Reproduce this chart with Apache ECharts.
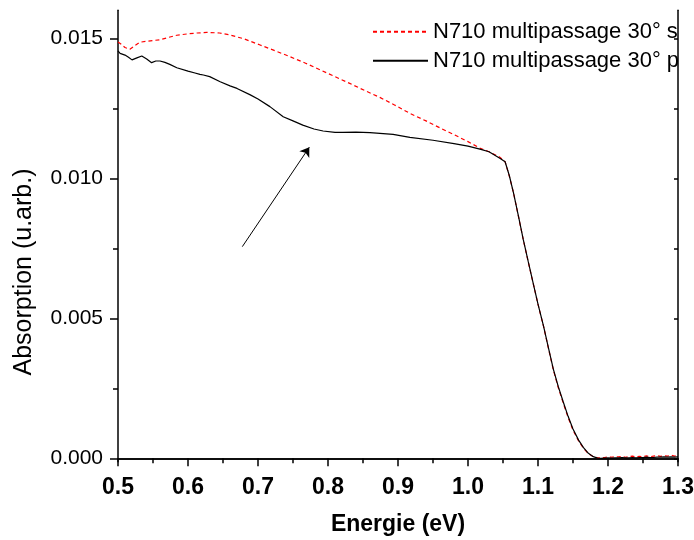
<!DOCTYPE html>
<html>
<head>
<meta charset="utf-8">
<script src="https://cdn.jsdelivr.net/npm/echarts@6/dist/echarts.min.js"></script>
<style>html,body{margin:0;padding:0;background:#fff}#c{width:694px;height:540px}</style>
</head>
<body>
<div id="c"></div>
<script>
// ---- data ----
const seriesNames = ['N710 multipassage 30° s', 'N710 multipassage 30° p'];

const energieS = [0.500,0.505,0.510,0.517,0.524,0.531,0.540,0.550,0.560,0.572,0.584,0.600,0.613,0.627,0.645,0.660,0.680,0.703,0.725,0.746,0.768,0.789,0.810,0.831,0.852,0.874,0.895,0.917,0.940,0.960,0.980,1.000,1.017,1.030,1.045,1.053,
  1.059,1.065,1.072,1.079,1.086,1.093,1.100,1.108,1.115,1.122,1.129,1.136,1.143,1.150,1.158,1.165,1.172,1.179,1.185,1.190,
  1.195,1.200,1.205,1.210,1.215,1.220,1.225,1.230,1.235,1.240,1.245,1.250,1.255,1.260,1.265,1.270,1.275,1.280,1.285,1.290,1.295,1.300];
const absorptionS = [0.01487,0.01478,0.01467,0.01461,0.01474,0.01486,0.01489,0.01492,0.01495,0.01503,0.01511,0.01516,0.01519,0.01521,0.01519,0.01512,0.01498,0.01476,0.01455,0.01434,0.01411,0.01387,0.01363,0.01339,0.01314,0.01289,0.01262,0.01232,0.01205,0.01180,0.01156,0.01131,0.01108,0.01095,0.01076,0.01059,
  0.01008,0.00948,0.00865,0.00780,0.00702,0.00626,0.00550,0.00470,0.00392,0.00315,0.00252,0.00198,0.00146,0.00101,0.00062,0.00036,0.00017,0.00006,0.00002,0.00002,
  0.00003,0.00005,0.00004,0.00006,0.00005,0.00007,0.00004,0.00006,0.00008,0.00005,0.00007,0.00006,0.00009,0.00006,0.00008,0.00010,0.00007,0.00009,0.00008,0.00011,0.00008,0.00010];

const energieP = [0.500,0.503,0.510,0.515,0.520,0.527,0.534,0.541,0.548,0.554,0.560,0.567,0.574,0.584,0.600,0.610,0.617,0.622,0.631,0.646,0.660,0.670,0.689,0.700,0.717,0.736,0.750,0.764,0.780,0.793,0.810,0.821,0.840,0.860,0.893,0.917,0.950,0.980,1.000,1.017,1.030,1.046,1.053,
  1.059,1.065,1.072,1.079,1.086,1.093,1.100,1.108,1.115,1.122,1.129,1.136,1.143,1.150,1.158,1.165,1.172,1.179,1.185,1.190,
  1.195,1.200,1.205,1.210,1.215,1.220,1.225,1.230,1.235,1.240,1.245,1.250,1.255,1.260,1.265,1.270,1.275,1.280,1.285,1.290,1.295,1.300];
const absorptionP = [0.01455,0.01446,0.01440,0.01432,0.01423,0.01430,0.01437,0.01426,0.01413,0.01419,0.01419,0.01414,0.01407,0.01395,0.01383,0.01376,0.01371,0.01369,0.01363,0.01345,0.01330,0.01321,0.01298,0.01283,0.01256,0.01220,0.01205,0.01190,0.01176,0.01169,0.01164,0.01164,0.01165,0.01163,0.01157,0.01146,0.01136,0.01124,0.01115,0.01104,0.01095,0.01071,0.01059,
  0.01010,0.00948,0.00866,0.00781,0.00703,0.00627,0.00551,0.00471,0.00394,0.00318,0.00256,0.00202,0.00150,0.00105,0.00065,0.00038,0.00018,0.00006,0.00001,0.00000,
  0.00001,0.00002,0.00001,0.00002,0.00002,0.00003,0.00002,0.00002,0.00003,0.00002,0.00003,0.00003,0.00004,0.00003,0.00003,0.00004,0.00004,0.00005,0.00004,0.00005,0.00004,0.00005];

const yMajorTicks = [0, 0.005, 0.010, 0.015];
const yMinorTicks = [0.0025, 0.0075, 0.0125];
const yAllTicks = [0, 0.0025, 0.005, 0.0075, 0.010, 0.0125, 0.015];
const arrowStart = [0.6776, 0.00756];
const arrowEnd = [0.7733, 0.01111];

// ---- chart ----
const FONT = '"Liberation Sans", Arial, sans-serif';
const zip = (xs, ys) => xs.map((x, i) => [x, ys[i]]);
const axisLineStyle = { color: '#000', width: 1.5 };
const Y_MIN = -0.00012, Y_MAX = 0.016;

const chart = echarts.init(document.getElementById('c'), null, { renderer: 'canvas' });
chart.setOption({
  animation: false,
  backgroundColor: '#fff',
  grid: { left: 118, right: 16, top: 10.3, bottom: 78.3, containLabel: false, outerBoundsMode: 'none' },
  legend: {
    data: seriesNames,
    orient: 'vertical',
    left: 372, top: 19.7, padding: 0,
    itemGap: 5, itemWidth: 55, itemHeight: 14,
    selectedMode: false,
    itemStyle: { opacity: 0 },
    textStyle: { fontSize: 22, color: '#000', fontFamily: FONT, lineHeight: 24 }
  },
  xAxis: [
    {
      type: 'value', position: 'bottom', min: 0.5, max: 1.3, interval: 0.1,
      axisLine: { show: true, lineStyle: axisLineStyle },
      axisTick: { show: true, length: 8, lineStyle: axisLineStyle },
      minorTick: { show: true, splitNumber: 2, length: 5, lineStyle: axisLineStyle },
      axisLabel: { fontSize: 23, fontWeight: 'bold', color: '#000', fontFamily: FONT, margin: 14,
        showMinLabel: true, showMaxLabel: true, formatter: v => v.toFixed(1) },
      splitLine: { show: false },
      name: 'Energie (eV)', nameLocation: 'middle', nameGap: 51, nameMoveOverlap: false,
      nameTextStyle: { fontSize: 23, fontWeight: 'bold', color: '#000', fontFamily: FONT }
    },
    {
      type: 'value', position: 'top', min: 0.5, max: 1.3, interval: 0.05,
      axisLine: { show: true, lineStyle: axisLineStyle },
      axisTick: { show: true, inside: true, length: 4, lineStyle: axisLineStyle },
      axisLabel: { show: false },
      splitLine: { show: false }
    }
  ],
  yAxis: [
    {
      type: 'value', position: 'left', min: Y_MIN, max: Y_MAX,
      axisLine: { show: true, lineStyle: axisLineStyle },
      axisTick: { show: true, length: 8, customValues: yMajorTicks, lineStyle: axisLineStyle },
      axisLabel: { show: true, customValues: yMajorTicks, fontSize: 21, color: '#000', fontFamily: FONT, margin: 15,
        formatter: v => v.toFixed(3) },
      splitLine: { show: false }
    },
    {
      type: 'value', position: 'left', min: Y_MIN, max: Y_MAX,
      axisLine: { show: false },
      axisTick: { show: true, length: 5, customValues: yMinorTicks, lineStyle: axisLineStyle },
      axisLabel: { show: false },
      splitLine: { show: false }
    },
    {
      type: 'value', position: 'right', min: Y_MIN, max: Y_MAX,
      axisLine: { show: true, lineStyle: axisLineStyle },
      axisTick: { show: true, inside: true, length: 4, customValues: yAllTicks, lineStyle: axisLineStyle },
      axisLabel: { show: false },
      splitLine: { show: false }
    }
  ],
  graphic: [
    {
      type: 'text', x: 24, y: 272, rotation: Math.PI / 2, z: 10,
      style: { text: 'Absorption (u.arb.)', fontSize: 25, fontFamily: FONT, fill: '#000',
        textAlign: 'center', textVerticalAlign: 'middle' }
    },
    {
      type: 'rect', z: 100, shape: { x: 679, y: 0, width: 15, height: 100 },
      style: { fill: '#fff' }
    }
  ],
  series: [
    {
      name: seriesNames[0], type: 'line', xAxisIndex: 0, yAxisIndex: 0,
      data: zip(energieS, absorptionS), symbol: 'none', showSymbol: false,
      lineStyle: { color: '#ff0000', width: 1.2, type: [4, 3] },
      itemStyle: { color: '#ff0000' }, emphasis: { disabled: true }, z: 2
    },
    {
      name: seriesNames[1], type: 'line', xAxisIndex: 0, yAxisIndex: 0,
      data: zip(energieP, absorptionP), symbol: 'none', showSymbol: false,
      lineStyle: { color: '#000', width: 1.2 },
      itemStyle: { color: '#000' }, emphasis: { disabled: true }, z: 3,
      markLine: {
        silent: true, symbol: ['none', 'arrow'], symbolSize: 9, animation: false,
        lineStyle: { color: '#000', width: 1, type: 'solid' },
        label: { show: false }, emphasis: { disabled: true },
        data: [[{ coord: arrowStart }, { coord: arrowEnd }]]
      }
    }
  ]
});
</script>
</body>
</html>
